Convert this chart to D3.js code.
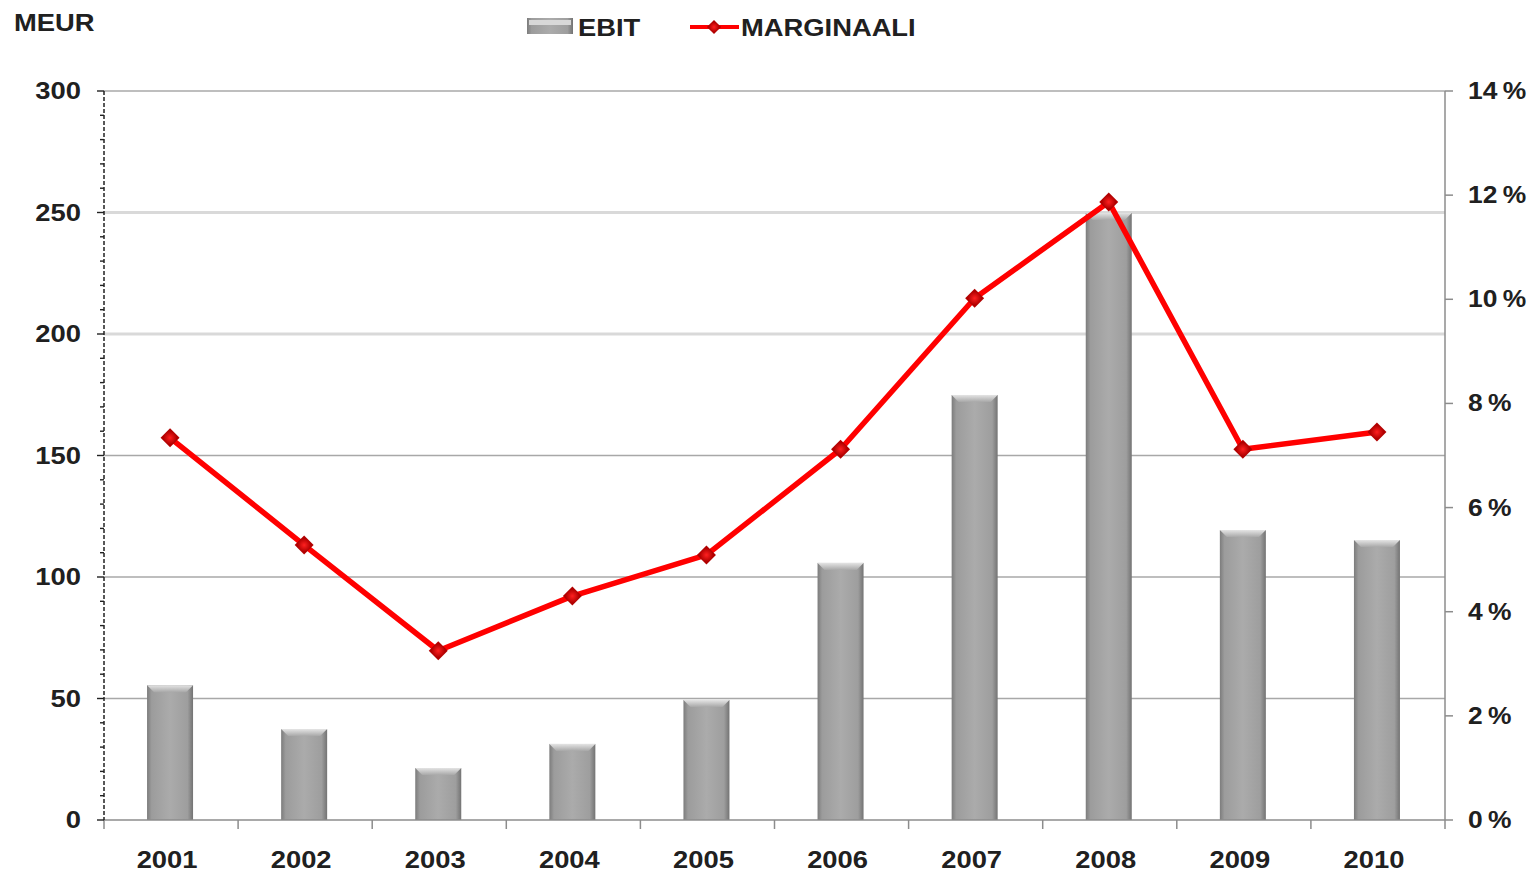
<!DOCTYPE html>
<html>
<head>
<meta charset="utf-8">
<script src="https://cdn.jsdelivr.net/npm/d3@7"></script>
<style>
  body { margin: 0; background: #fff; }
  text { font-family: "Liberation Sans", Arial, sans-serif; font-weight: bold; fill: #202020; }
</style>
</head>
<body>
<svg id="chart" width="1529" height="873"></svg>
<script>
// data
const years = ["2001", "2002", "2003", "2004", "2005", "2006", "2007", "2008", "2009", "2010"];
const ebit = [55.5, 37.4, 21.4, 31.3, 49.4, 105.8, 174.9, 249.8, 119.3, 115.2];
const margin = [7.34, 5.28, 3.25, 4.30, 5.09, 7.12, 10.02, 11.87, 7.12, 7.45];
const leftTicks = [0, 50, 100, 150, 200, 250, 300];
const rightTicks = [0, 2, 4, 6, 8, 10, 12, 14];

const svg = d3.select("#chart");
const M = { left: 104, right: 1445, top: 91, bottom: 820 };
const FS = 24, SX = 1.14; // text is a bit wide in the original

const x = d3.scaleBand().domain(years).range([M.left, M.right]);
const yL = d3.scaleLinear().domain([0, 300]).range([M.bottom, M.top]);
const yR = d3.scaleLinear().domain([0, 14]).range([M.bottom, M.top]);

// place wide text at (tx, ty)
function label(sel, tx, ty, sx) {
  return sel.attr("transform", (d, i) => `translate(${tx(d, i)},${ty(d, i)}) scale(${sx || SX},1)`)
    .attr("font-size", FS);
}

// gradients
const defs = svg.append("defs");
const barGrad = defs.append("linearGradient").attr("id", "barGrad")
  .attr("x1", "0").attr("x2", "1").attr("y1", "0").attr("y2", "0");
[[0, "#7c7c7c"], [0.1, "#9c9c9c"], [0.5, "#ababab"], [0.88, "#9e9e9e"], [1, "#737373"]]
  .forEach(s => barGrad.append("stop").attr("offset", s[0]).attr("stop-color", s[1]));
const capGrad = defs.append("linearGradient").attr("id", "capGrad")
  .attr("x1", "0").attr("x2", "0").attr("y1", "0").attr("y2", "1");
[[0, "#e4e4e4"], [1, "#a8a8a8"]]
  .forEach(s => capGrad.append("stop").attr("offset", s[0]).attr("stop-color", s[1]));
const dGrad = defs.append("radialGradient").attr("id", "dGrad");
[[0, "#ff2020"], [1, "#b00000"]]
  .forEach(s => dGrad.append("stop").attr("offset", s[0]).attr("stop-color", s[1]));

// gridlines
svg.append("g").selectAll("line").data(leftTicks.filter(d => d > 0)).join("line")
  .attr("x1", M.left).attr("x2", M.right)
  .attr("y1", d => yL(d)).attr("y2", d => yL(d))
  .attr("stroke", d => (d === 200 || d === 250) ? "#d9d9d9" : "#a8a8a8")
  .attr("stroke-width", d => (d === 200 || d === 250) ? 3 : 1.5);

// bars
const bw = 46;
const bx = d => x(d) + x.bandwidth() / 2 - bw / 2 - 1;
const bars = svg.append("g").selectAll("g").data(years).join("g");
bars.append("rect")
  .attr("x", bx)
  .attr("y", (d, i) => yL(ebit[i]))
  .attr("width", bw)
  .attr("height", (d, i) => yL(0) - yL(ebit[i]))
  .attr("fill", "url(#barGrad)");
bars.append("path")
  .attr("d", (d, i) => {
    const x0 = bx(d), y0 = yL(ebit[i]);
    return `M${x0},${y0}L${x0 + bw},${y0}L${x0 + bw - 7},${y0 + 7}L${x0 + 7},${y0 + 7}Z`;
  })
  .attr("fill", "url(#capGrad)");

// axes
const bottom = svg.append("g").attr("transform", `translate(0,${M.bottom})`);
bottom.append("line").attr("x1", M.left).attr("x2", M.right).attr("stroke", "#8c8c8c").attr("stroke-width", 1.5);
bottom.selectAll("line.tick").data(d3.range(years.length + 1)).join("line").attr("class", "tick")
  .attr("x1", i => M.left + i * x.step()).attr("x2", i => M.left + i * x.step())
  .attr("y1", 0).attr("y2", 9).attr("stroke", "#8c8c8c").attr("stroke-width", 1.5);
label(bottom.selectAll("text").data(years).join("text"),
  d => x(d) + x.bandwidth() / 2 - 4, () => 48)
  .attr("text-anchor", "middle").text(d => d);

// left axis (dashed, minor ticks every 10)
const left = svg.append("g");
left.append("line").attr("x1", M.left).attr("x2", M.left).attr("y1", M.top).attr("y2", M.bottom)
  .attr("stroke", "#222").attr("stroke-width", 1.5).attr("stroke-dasharray", "4,2");
left.selectAll("line.minor").data(d3.range(0, 301, 10)).join("line").attr("class", "minor")
  .attr("x1", d => d % 50 === 0 ? M.left - 7 : M.left - 4).attr("x2", M.left)
  .attr("y1", d => yL(d)).attr("y2", d => yL(d))
  .attr("stroke", "#222").attr("stroke-width", 1.4);
label(left.selectAll("text").data(leftTicks).join("text"), () => 81, d => yL(d) + 8)
  .attr("text-anchor", "end").text(d => d);

// right axis
const right = svg.append("g");
right.append("line").attr("x1", M.right).attr("x2", M.right).attr("y1", M.top).attr("y2", M.bottom)
  .attr("stroke", "#8c8c8c").attr("stroke-width", 1.5);
right.selectAll("line.tick").data(rightTicks).join("line").attr("class", "tick")
  .attr("x1", M.right).attr("x2", M.right + 8)
  .attr("y1", d => yR(d)).attr("y2", d => yR(d))
  .attr("stroke", "#8c8c8c").attr("stroke-width", 1.5);
label(right.selectAll("text").data(rightTicks).join("text"), () => 1468, d => yR(d) + 8, 1.1)
  .text(d => d + "\u2009%");

// margin line
const cx = i => x(years[i]) + x.bandwidth() / 2 - 1;
const line = d3.line().x((d, i) => cx(i)).y(d => yR(d));
svg.append("path").datum(margin).attr("d", line)
  .attr("fill", "none").attr("stroke", "#ff0000").attr("stroke-width", 5.5).attr("stroke-linejoin", "round");
svg.append("g").selectAll("path").data(margin).join("path")
  .attr("d", d3.symbol(d3.symbolSquare, 180)())
  .attr("transform", (d, i) => `translate(${cx(i)},${yR(d)}) rotate(45)`)
  .attr("fill", "url(#dGrad)");

// title + legend
label(svg.append("text").datum("MEUR"), () => 14, () => 31).text("MEUR");
const lg = svg.append("g");
lg.append("rect").attr("x", 527).attr("y", 18).attr("width", 46).attr("height", 16).attr("fill", "url(#barGrad)");
lg.append("rect").attr("x", 529).attr("y", 20).attr("width", 42).attr("height", 5).attr("fill", "#d8d8d8");
label(lg.append("text").datum("EBIT"), () => 578, () => 36).text("EBIT");
lg.append("line").attr("x1", 690).attr("x2", 739).attr("y1", 27).attr("y2", 27)
  .attr("stroke", "#ff0000").attr("stroke-width", 4);
lg.append("path").attr("transform", "translate(714,27) rotate(45)")
  .attr("d", d3.symbol(d3.symbolSquare, 100)()).attr("fill", "url(#dGrad)");
label(lg.append("text").datum("MARGINAALI"), () => 741, () => 36).text("MARGINAALI");
</script>
</body>
</html>
